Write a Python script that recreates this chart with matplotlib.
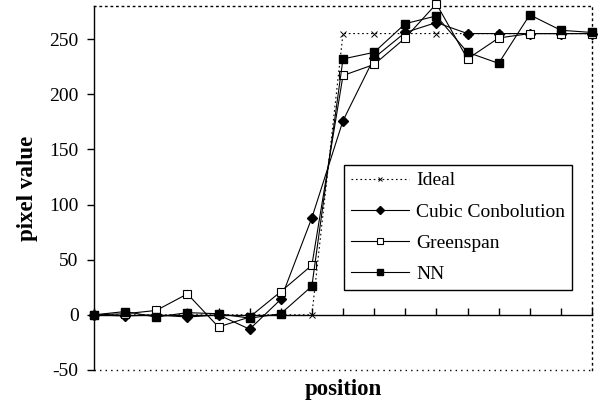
import matplotlib
matplotlib.use("Agg")
import matplotlib.pyplot as plt

# values
positions = list(range(17))
ideal = [0, 0, 0, 0, 0, 0, 0, 0, 255, 255, 255, 255, 255, 255, 255, 255, 255]
cubic = [0, -1, 0, -2, 0, -13, 14, 88, 176, 233, 256, 265, 255, 255, 255, 255, 255]
greenspan = [0, 1, 4, 19, -11, -2, 21, 45, 217, 227, 251, 282, 232, 251, 255, 255, 255]
nn = [0, 3, -2, 2, 1, -3, 1, 26, 232, 238, 264, 271, 238, 228, 272, 258, 256]

yticks = [-50, 0, 50, 100, 150, 200, 250]

plt.rcParams['font.family'] = ['Liberation Serif', 'DejaVu Serif']
plt.rcParams['axes.unicode_minus'] = False

fig = plt.figure(figsize=(6.11, 4.07), dpi=100)
ax = fig.add_axes([94 / 611, 1 - 370 / 407, 498 / 611, 364 / 407])

lw = 0.8
ax.plot(positions, ideal, color='black', lw=lw, ls=(0, (1.5, 2.5)),
        marker='x', ms=4, mew=0.7, label='Ideal', clip_on=False, zorder=3)
ax.plot(positions, cubic, color='black', lw=lw, marker='D', ms=5,
        label='Cubic Conbolution', clip_on=False, zorder=4)
ax.plot(positions, greenspan, color='black', lw=lw, marker='s', ms=5.5,
        mfc='white', mew=0.8, label='Greenspan', clip_on=False, zorder=5)
ax.plot(positions, nn, color='black', lw=lw, marker='s', ms=6,
        label='NN', clip_on=False, zorder=6)

ax.set_xlim(0, 16)
ax.set_ylim(-50, 280)
ax.set_yticks(yticks)
ax.set_xticks(positions)
ax.tick_params(axis='y', direction='out', length=5, width=1, pad=6, labelsize=14)
ax.tick_params(axis='x', direction='in', length=5, width=1, labelbottom=False)

# x axis runs through zero, frame drawn dotted
ax.spines['bottom'].set_position(('data', 0))
ax.spines['bottom'].set_linewidth(1)
ax.spines['left'].set_linewidth(1)
for side in ['top', 'right']:
    ax.spines[side].set_linestyle((0, (1, 3)))
    ax.spines[side].set_linewidth(1)
ax.plot([0, 1], [0, 0], transform=ax.transAxes, color='black', lw=1,
        ls=(0, (1, 3)), clip_on=False)

ax.set_xlabel('position', fontsize=16.5, fontweight='bold')
ax.set_ylabel('pixel value', fontsize=16.5, fontweight='bold')
ax.xaxis.set_label_coords(0.5, -0.025)
ax.yaxis.set_label_coords(-0.113, 0.5)

leg = ax.legend(loc='upper left', bbox_to_anchor=(344 / 611, 1 - 165 / 407),
                bbox_transform=fig.transFigure, borderaxespad=0, fontsize=14,
                fancybox=False, framealpha=1, edgecolor='black',
                handlelength=3.0, handletextpad=0.35, labelspacing=0.7,
                numpoints=1, borderpad=0.35, markerscale=0.75)
leg.get_frame().set_linewidth(1)

fig.savefig('out.png', dpi=100)
